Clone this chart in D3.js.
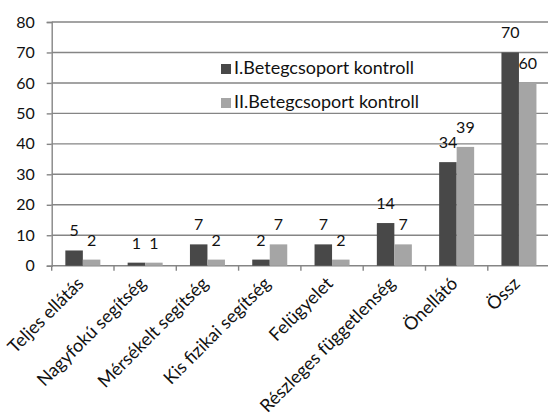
<!DOCTYPE html>
<html>
<head>
<meta charset="utf-8">
<script src="https://cdn.jsdelivr.net/npm/d3@7"></script>
<style>
  html, body { margin: 0; padding: 0; background: #fff; }
  svg { display: block; font-family: Lato, "Open Sans", sans-serif; }
</style>
</head>
<body>
<svg id="chart" width="548" height="415"></svg>
<script>
// Categories and the two control groups
const categories = [
  "Teljes ellátás", "Nagyfokú segítség", "Mérsékelt segítség", "Kis fizikai segítség",
  "Felügyelet", "Részleges függetlenség", "Önellátó", "Össz"
];
const seriesNames = ["I.Betegcsoport kontroll", "II.Betegcsoport kontroll"];
const group1 = [5, 1, 7, 2, 7, 14, 34, 70];
const group2 = [2, 1, 2, 7, 2, 7, 39, 60];
const yTicks = [0, 10, 20, 30, 40, 50, 60, 70, 80];

const colors = ["#484848", "#a5a5a5"];
const textColor = "#111";
const gridColor = "#858585";

const svg = d3.select("#chart");
const plotLeft = 51.7, plotRight = 550.1, plotTop = 22, plotBottom = 265.7;

const x = d3.scaleBand().domain(categories).range([plotLeft, plotRight])
  .paddingInner(0.438).paddingOuter(0.219);
const xs = d3.scaleBand().domain([0, 1]).range([0, x.bandwidth()]);
const y = d3.scaleLinear().domain([0, 80]).range([plotBottom, plotTop]);

// Horizontal gridlines
svg.append("g").selectAll("line").data(yTicks).join("line")
  .attr("x1", plotLeft).attr("x2", 548)
  .attr("y1", d => y(d)).attr("y2", d => y(d))
  .attr("stroke", gridColor).attr("stroke-width", 1.4);

// Y axis
const yAxis = svg.append("g").attr("transform", `translate(${plotLeft},0)`)
  .call(d3.axisLeft(y).tickValues(yTicks).tickSize(5).tickPadding(12).tickFormat(d3.format("d")));
yAxis.select(".domain").attr("stroke", gridColor).attr("stroke-width", 1.4);
yAxis.selectAll(".tick line").attr("stroke", gridColor).attr("stroke-width", 1.4);
yAxis.selectAll("text").attr("fill", textColor).style("font-size", "16px")
  .style("font-family", "Lato, sans-serif");

// X axis: tick marks on band boundaries
const edgeScale = d3.scaleLinear().domain([0, categories.length]).range([plotLeft, plotRight]);
svg.append("g").selectAll("line").data(d3.range(categories.length + 1)).join("line")
  .attr("x1", d => edgeScale(d)).attr("x2", d => edgeScale(d))
  .attr("y1", plotBottom).attr("y2", plotBottom + 5)
  .attr("stroke", gridColor).attr("stroke-width", 1.4);

// Category labels, rotated
svg.append("g").selectAll("text").data(categories).join("text")
  .attr("transform", d => `translate(${x(d) + x.bandwidth() / 2 + 2},${plotBottom + 19}) rotate(-45)`)
  .attr("text-anchor", "end")
  .attr("fill", textColor)
  .style("font-size", "18px")
  .text(d => d);

// Bars
const rows = categories.map((c, i) => ({ c, vals: [group1[i], group2[i]] }));
const g = svg.append("g").selectAll("g").data(rows).join("g")
  .attr("transform", d => `translate(${x(d.c)},0)`);
g.selectAll("rect").data(d => d.vals).join("rect")
  .attr("x", (d, i) => xs(i)).attr("width", xs.bandwidth())
  .attr("y", d => y(d)).attr("height", d => plotBottom - y(d))
  .attr("fill", (d, i) => colors[i]);

// Value labels
g.selectAll("text").data(d => d.vals).join("text")
  .attr("x", (d, i) => xs(i) + xs.bandwidth() / 2)
  .attr("y", d => y(d) - 14)
  .attr("text-anchor", "middle")
  .attr("fill", textColor)
  .style("font-size", "16px")
  .text(d => d);

// Legend
const legend = svg.append("g").attr("transform", "translate(221,0)");
const lg = legend.selectAll("g").data(seriesNames).join("g")
  .attr("transform", (d, i) => `translate(0,${74 + i * 34})`);
lg.append("rect").attr("x", 0).attr("y", -10).attr("width", 10).attr("height", 10)
  .attr("fill", (d, i) => colors[i]);
lg.append("text").attr("x", 13).attr("y", 0)
  .attr("fill", textColor).style("font-size", "18px").text(d => d);
</script>
</body>
</html>
